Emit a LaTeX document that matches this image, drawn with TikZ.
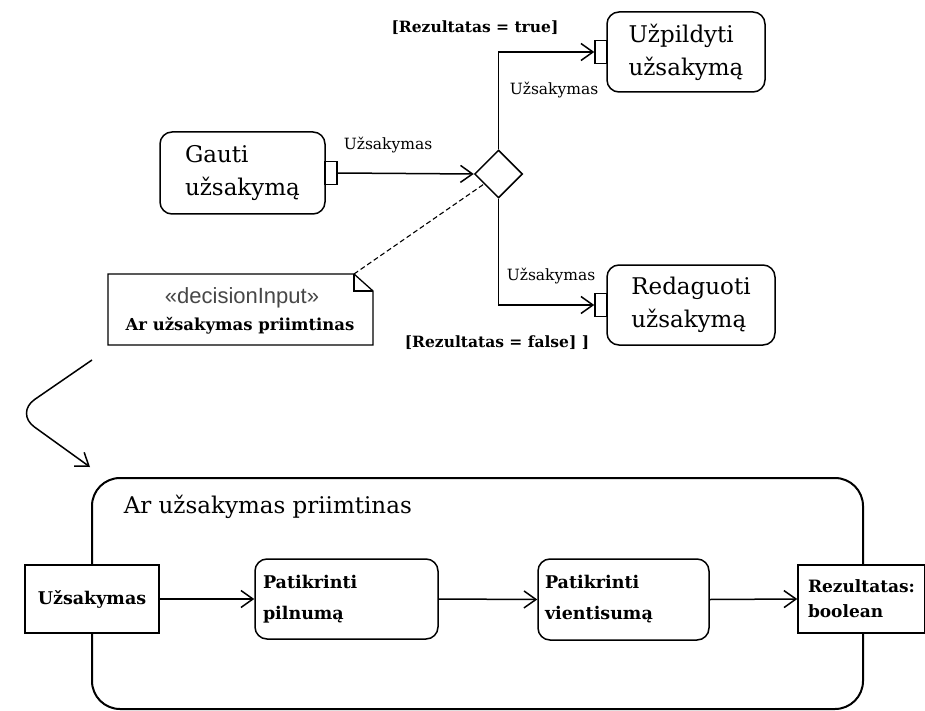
\documentclass[tikz,border=0pt]{standalone}
\usepackage{fontspec}
\setmainfont{DejaVu Serif}
\setsansfont{Liberation Sans}
\usetikzlibrary{arrows.meta,shapes.geometric}

\begin{document}
\begin{tikzpicture}[x=1pt,y=-1pt,
  line width=1.5pt,
  flow/.style={-{Straight Barb[length=12pt,width=17pt,line width=1.5pt]}},
  action/.style={draw, rounded corners=12pt, fill=white, inner sep=0pt, align=left},
  pinbox/.style={draw, fill=white, minimum width=12pt, minimum height=23pt, inner sep=0pt},
  objbox/.style={draw, fill=white, inner sep=0pt, align=left},
  flowlabel/.style={font=\fontsize{15.5}{18}\selectfont, inner sep=0pt},
  guard/.style={font=\fontsize{15.5}{18}\selectfont\bfseries, inner sep=0pt},
  bigtext/.style={font=\fontsize{23}{33}\selectfont},
  smalltext/.style={font=\fontsize{17.5}{31}\selectfont\bfseries},
]
\useasboundingbox (0,0) rectangle (925,711);
\fill[white] (0,0) rectangle (925,711);

% ---- upper activity: decision on the order ----
\node[action, bigtext, minimum width=165pt, minimum height=82pt] (gauti) at (242.5,173) {Gauti\\užsakymą};
\node[pinbox] (gpin) at (331,173) {};

\node[draw, fill=white, diamond, aspect=1, minimum width=48pt, minimum height=48pt, inner sep=0pt] (dec) at (498.5,174) {};

\node[action, bigtext, minimum width=158pt, minimum height=80pt] (fillorder) at (686,52) {Užpildyti\\užsakymą};
\node[pinbox] (upin) at (601,52) {};

\node[action, bigtext, minimum width=168pt, minimum height=80pt] (editorder) at (691,305) {Redaguoti\\užsakymą};
\node[pinbox] (lpin) at (601,305) {};

\draw[flow] (gpin.east) -- (dec.west);
\draw[flow] (dec.north) |- (upin.west);
\draw[flow] (dec.south) |- (lpin.west);

\node[flowlabel] (lblin) at (388,145) {Užsakymas};
\node[flowlabel] (lblup) at (554,90) {Užsakymas};
\node[flowlabel] (lbldown) at (551,276) {Užsakymas};
\node[guard] (gtrue) at (475,28) {[Rezultatas = true]};
\node[guard] (gfalse) at (497,343) {[Rezultatas = false] ]};

% ---- decision input note ----
\coordinate (fold) at (354,274);
\draw[line width=1.3pt, fill=white] (108,274) -- (fold) -- (373,291) -- (373,345) -- (108,345) -- cycle;
\draw[line width=1.3pt] (fold) -- (354,291) -- (373,291);
\node[font=\fontsize{22}{26}\selectfont\sffamily, text=black!72, inner sep=0pt] (notest) at (242,298) {«decisionInput»};
\node[font=\fontsize{16.5}{20}\selectfont\bfseries, inner sep=0pt] (notename) at (240,326) {Ar užsakymas priimtinas};
\draw[line width=1.1pt, dash pattern=on 5pt off 3pt] (fold) -- (dec);

% ---- link to the refined behaviour ----
\coordinate (cstart) at (92,360);
\coordinate (cend) at (90,467);
\draw[flow, rounded corners=24pt] (cstart) -- (15,413) -- (cend);

% ---- behaviour "Ar užsakymas priimtinas" ----
\node[draw, line width=2pt, rounded corners=28pt, minimum width=771pt, minimum height=231pt, inner sep=0pt] (frame) at (477.5,593.5) {};
\node[bigtext, anchor=west, inner sep=0pt] (ftitle) at (123,507) {Ar užsakymas priimtinas};

\node[objbox, smalltext, minimum width=134pt, minimum height=68pt] (inp) at (92,599) {Užsakymas};
\node[action, smalltext, minimum width=183pt, minimum height=80pt, text width=167pt] (pil) at (346.5,599) {Patikrinti\\pilnumą};
\node[action, smalltext, minimum width=171pt, minimum height=81pt, text width=157pt] (vie) at (623.5,599.5) {Patikrinti\\vientisumą};
\node[objbox, font=\fontsize{17}{25}\selectfont\bfseries, minimum width=127pt, minimum height=68pt, text width=107pt] (res) at (861.5,599) {Rezultatas:\\boolean};

\draw[flow] (inp.east) -- (pil.west);
\draw[flow] (pil.east) -- (vie.west);
\draw[flow] (vie.east) -- (res.west);
\end{tikzpicture}
\end{document}
